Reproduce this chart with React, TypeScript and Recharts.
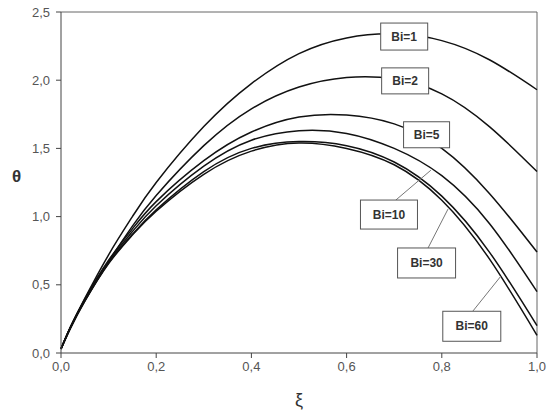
import React from "react";
import { LineChart, Line, XAxis, YAxis, ReferenceLine, ReferenceDot } from "recharts";

// ξ positions and θ values for each Biot number
const xi = [0, 0.02, 0.05, 0.1, 0.15, 0.2, 0.3, 0.4, 0.5, 0.6, 0.7, 0.8, 0.9, 1.0];
const bi1 = [0.03, 0.19, 0.4, 0.72, 1.0, 1.25, 1.66, 1.975, 2.195, 2.31, 2.34, 2.29, 2.15, 1.93];
const bi2 = [0.03, 0.18, 0.38, 0.67, 0.93, 1.155, 1.52, 1.79, 1.95, 2.02, 2.01, 1.9, 1.66, 1.33];
const bi5 = [0.03, 0.19, 0.395, 0.68, 0.91, 1.11, 1.41, 1.62, 1.73, 1.745, 1.68, 1.5, 1.17, 0.74];
const bi10 = [0.03, 0.19, 0.39, 0.67, 0.89, 1.08, 1.37, 1.56, 1.63, 1.61, 1.5, 1.3, 0.95, 0.45];
const bi30 = [0.03, 0.19, 0.385, 0.66, 0.87, 1.05, 1.33, 1.5, 1.55, 1.52, 1.4, 1.15, 0.74, 0.2];
const bi60 = [0.03, 0.19, 0.38, 0.655, 0.865, 1.04, 1.31, 1.48, 1.54, 1.5, 1.38, 1.12, 0.69, 0.13];

const xTicks = [0, 0.2, 0.4, 0.6, 0.8, 1.0];
const yTicks = [0, 0.5, 1.0, 1.5, 2.0, 2.5];

const seriesKeys = ["bi1", "bi2", "bi5", "bi10", "bi30", "bi60"];

const data = xi.map((x, i) => ({
  xi: x,
  bi1: bi1[i],
  bi2: bi2[i],
  bi5: bi5[i],
  bi10: bi10[i],
  bi30: bi30[i],
  bi60: bi60[i],
}));

// label boxes (centre in data coords) and optional leader lines
const labels = [
  { text: "Bi=1", x: 0.721, y: 2.32, w: 47, h: 27 },
  { text: "Bi=2", x: 0.723, y: 1.995, w: 47, h: 26 },
  { text: "Bi=5", x: 0.768, y: 1.6, w: 46, h: 26 },
  { text: "Bi=10", x: 0.689, y: 1.015, w: 57, h: 29, lead: [0.703, 1.12, 0.777, 1.34] },
  { text: "Bi=30", x: 0.768, y: 0.66, w: 58, h: 30, lead: [0.771, 0.769, 0.813, 1.055] },
  { text: "Bi=60", x: 0.863, y: 0.196, w: 58, h: 30, lead: [0.865, 0.306, 0.924, 0.563] },
];

const font = '"Liberation Sans", Arial, sans-serif';
const fmt = (v: number) => v.toFixed(1).replace(".", ",");

function boxShape(text: string, w: number, h: number) {
  return (props: any) => {
    const { cx, cy } = props;
    return (
      <g>
        <rect x={cx - w / 2} y={cy - h / 2} width={w} height={h} fill="#fff" stroke="#555" strokeWidth={1} />
        <text
          x={cx}
          y={cy}
          textAnchor="middle"
          dominantBaseline="central"
          fontFamily={font}
          fontWeight="bold"
          fontSize={12}
          fill="#333"
        >
          {text}
        </text>
      </g>
    );
  };
}

export default function App() {
  return (
    <div style={{ position: "absolute", left: 0, top: 0, width: 550, height: 416, background: "#fff" }}>
      <LineChart width={550} height={416} data={data} margin={{ top: 12, right: 13, left: 0, bottom: 0 }}>
        <XAxis
          dataKey="xi"
          type="number"
          domain={[0, 1]}
          ticks={xTicks}
          tickFormatter={fmt}
          height={63}
          stroke="#444"
          tickSize={5}
          tickMargin={4}
          tick={{ fill: "#555", fontSize: 13, fontFamily: font }}
          label={{ value: "ξ", position: "insideBottom", offset: 10, style: { fontSize: 18, fill: "#333", fontFamily: font } }}
        />
        <YAxis
          type="number"
          domain={[0, 2.5]}
          ticks={yTicks}
          tickFormatter={fmt}
          width={61}
          stroke="#444"
          tickSize={5}
          tickMargin={6}
          tick={{ fill: "#555", fontSize: 13, fontFamily: font }}
          label={{ value: "θ", position: "insideLeft", offset: 12, dy: -7, style: { fontSize: 17, fontWeight: "bold", fill: "#333", fontFamily: font } }}
        />
        <ReferenceLine y={2.5} stroke="#666" />
        <ReferenceLine x={1} stroke="#666" />
        {seriesKeys.map((k) => (
          <Line
            key={k}
            type="natural"
            dataKey={k}
            stroke="#111"
            strokeWidth={1.5}
            dot={false}
            isAnimationActive={false}
          />
        ))}
        {labels
          .filter((l) => l.lead)
          .map((l) => (
            <ReferenceLine
              key={l.text + "-lead"}
              segment={[
                { x: l.lead![0], y: l.lead![1] },
                { x: l.lead![2], y: l.lead![3] },
              ]}
              stroke="#777"
              strokeWidth={1}
            />
          ))}
        {labels.map((l) => (
          <ReferenceDot key={l.text} x={l.x} y={l.y} r={1} shape={boxShape(l.text, l.w, l.h)} />
        ))}
      </LineChart>
    </div>
  );
}
